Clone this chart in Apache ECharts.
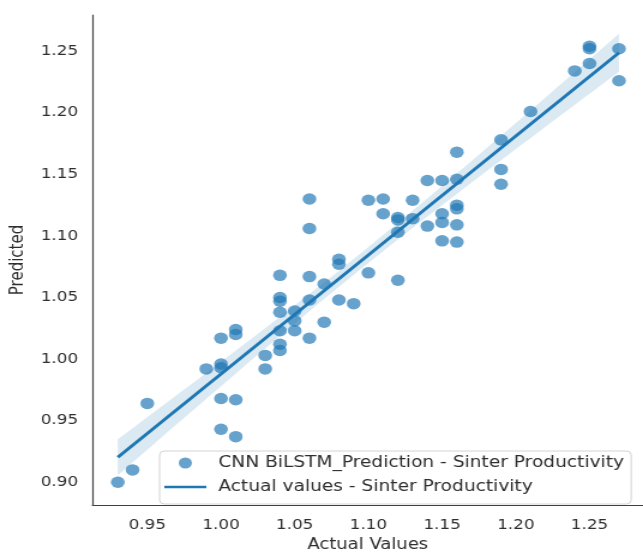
<!DOCTYPE html>
<html><head><meta charset="utf-8">
<script src="https://cdn.jsdelivr.net/npm/echarts@6/dist/echarts.min.js"></script>
<style>
html,body{margin:0;padding:0;background:#fff;overflow:hidden}
#wrap{width:643px;height:558px;overflow:hidden}
#chart{width:536px;height:558px;transform:scaleX(1.19963);transform-origin:0 0}
</style>
</head><body><div id="wrap"><div id="chart"></div></div>
<script>
// Actual (x) and predicted (y) values
const actualValues = [
  0.93,0.94,0.95,0.99,
  1.00,1.00,1.00,1.00,1.00,
  1.01,1.01,1.01,1.01,
  1.03,1.03,
  1.04,1.04,1.04,1.04,1.04,1.04,1.04,
  1.05,1.05,1.05,
  1.06,1.06,1.06,1.06,1.06,
  1.07,1.07,
  1.08,1.08,1.08,
  1.09,
  1.10,1.10,
  1.11,1.11,
  1.12,1.12,1.12,1.12,
  1.13,1.13,
  1.14,1.14,
  1.15,1.15,1.15,1.15,
  1.16,1.16,1.16,1.16,1.16,1.16,
  1.19,1.19,1.19,
  1.21,1.24,
  1.25,1.25,1.25,
  1.27,1.27
];
const predictedValues = [
  0.900,0.910,0.964,0.992,
  0.996,0.993,1.017,0.968,0.943,
  1.024,1.020,0.967,0.937,
  1.003,0.992,
  1.068,1.050,1.047,1.038,1.023,1.012,1.007,
  1.039,1.031,1.023,
  1.130,1.106,1.067,1.048,1.017,
  1.061,1.030,
  1.081,1.077,1.048,
  1.045,
  1.129,1.070,
  1.130,1.118,
  1.115,1.113,1.103,1.064,
  1.129,1.114,
  1.145,1.108,
  1.145,1.118,1.111,1.096,
  1.168,1.146,1.125,1.122,1.109,1.095,
  1.178,1.154,1.142,
  1.201,1.234,
  1.254,1.252,1.240,
  1.252,1.226
];
const xTickLabels = [0.95,1.00,1.05,1.10,1.15,1.20,1.25];
const yTickLabels = [0.90,0.95,1.00,1.05,1.10,1.15,1.20,1.25];
const scatterName = 'CNN BiLSTM_Prediction - Sinter Productivity';
const lineName = 'Actual values - Sinter Productivity';

// Linear regression fit (as in a regression plot) with 95% confidence band
const n = actualValues.length;
const mx = actualValues.reduce((a,b)=>a+b,0)/n;
const my = predictedValues.reduce((a,b)=>a+b,0)/n;
let sxx=0, sxy=0;
for (let i=0;i<n;i++){ sxx += (actualValues[i]-mx)**2; sxy += (actualValues[i]-mx)*(predictedValues[i]-my); }
const slope = sxy/sxx, intercept = my - slope*mx;
let sse=0;
for (let i=0;i<n;i++){ const r = predictedValues[i]-(intercept+slope*actualValues[i]); sse += r*r; }
const s = Math.sqrt(sse/(n-2));
const xLo = Math.min(...actualValues), xHi = Math.max(...actualValues);
const fitLine = [[xLo, intercept+slope*xLo],[xHi, intercept+slope*xHi]];
const bandPts = 40;
const bandX=[], bandUpper=[], bandLower=[];
for (let k=0;k<=bandPts;k++){
  const x = xLo + (xHi-xLo)*k/bandPts;
  const yh = intercept+slope*x;
  const se = s*Math.sqrt(1/n + (x-mx)**2/sxx);
  bandX.push(x); bandUpper.push(yh+1.997*se); bandLower.push(yh-1.997*se);
}

const chart = echarts.init(document.getElementById('chart'), null, {renderer:'canvas'});
const txt = '#2e2e2e';
const font = 'DejaVu Sans';
chart.setOption({
  animation:false,
  backgroundColor:'#ffffff',
  grid:{left:77, right:0, top:15, bottom:48, containLabel:false},
  xAxis:{
    type:'value', min:0.9128, max:1.2863,
    name:'Actual Values', nameLocation:'middle', nameGap:33,
    nameTextStyle:{color:txt, fontSize:15, fontFamily:font},
    axisLine:{show:true, onZero:false, lineStyle:{color:'#404040', width:1.2}},
    axisTick:{show:false},
    splitLine:{show:false},
    axisLabel:{customValues:xTickLabels, color:txt, fontSize:14, fontFamily:font, margin:13,
      formatter:v=>Number(v).toFixed(2)}
  },
  yAxis:{
    type:'value', min:0.8815, max:1.2794,
    name:'Predicted', nameLocation:'middle', nameGap:48,
    nameTextStyle:{color:txt, fontSize:15, fontFamily:font},
    axisLine:{show:true, onZero:false, lineStyle:{color:'#404040', width:1.2}},
    axisTick:{show:false},
    splitLine:{show:false},
    axisLabel:{customValues:yTickLabels, color:txt, fontSize:14, fontFamily:font, margin:12,
      formatter:v=>Number(v).toFixed(2)}
  },
  legend:{
    data:[{name:scatterName, icon:'circle'}, {name:lineName, icon:'path://M0,0H40V3H0Z'}],
    orient:'vertical', left:133, top:451,
    itemWidth:35, itemHeight:11, itemGap:6,
    padding:[3,6,8,4],
    backgroundColor:'rgba(255,255,255,0.8)', borderColor:'#d4d4d4', borderWidth:1, borderRadius:4,
    textStyle:{color:txt, fontSize:15.5, fontFamily:font, lineHeight:18, padding:[0,0,0,5]}
  },
  series:[
    {
      type:'custom', name:'band', silent:true, z:1,
      data:[[bandX[0], bandLower[0]]],
      renderItem:function(params, api){
        const pts=[];
        for (let i=0;i<bandX.length;i++) pts.push(api.coord([bandX[i], bandUpper[i]]));
        for (let i=bandX.length-1;i>=0;i--) pts.push(api.coord([bandX[i], bandLower[i]]));
        return {type:'polygon', shape:{points:pts}, style:{fill:'rgba(31,119,180,0.16)'}};
      }
    },
    {
      type:'scatter', name:scatterName, z:2,
      data:actualValues.map((x,i)=>[x, predictedValues[i]]),
      symbol:'circle', symbolSize:11.5,
      itemStyle:{color:'rgba(31,119,180,0.85)'}
    },
    {
      type:'line', name:lineName, z:3,
      data:fitLine, symbol:'none', showSymbol:false,
      lineStyle:{color:'#1f77b4', width:3},
      itemStyle:{color:'#1f77b4'}
    }
  ]
});
</script>
</body></html>
